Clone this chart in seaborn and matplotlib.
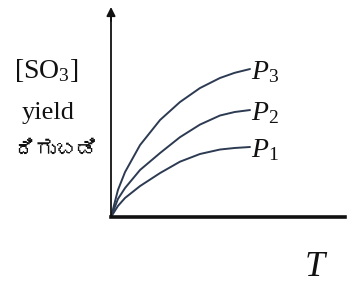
import numpy as np
import pandas as pd
import matplotlib
matplotlib.use("Agg")
import matplotlib.pyplot as plt
import seaborn as sns
from matplotlib import font_manager
from matplotlib.ft2font import FT2Font

# ---- data (T and yield in arbitrary units)
T_values = [0.0, 0.5, 1.01, 2.09, 3.53, 4.96, 6.40, 7.84, 8.9, 10.0]
P3_yield = [0.0, 1.93, 3.21, 5.14, 6.93, 8.21, 9.21, 9.93, 10.3, 10.57]
P2_yield = [0.0, 1.29, 2.07, 3.36, 4.57, 5.70, 6.60, 7.25, 7.50, 7.64]
P1_yield = [0.0, 0.79, 1.36, 2.21, 3.14, 3.95, 4.50, 4.82, 4.93, 5.0]
series_names = ["P1", "P2", "P3"]
series_labels = [r"$P_1$", r"$P_2$", r"$P_3$"]
ylabel_lines = [r"[SO$_3$]", "yield", "ದಿಗುಬಡಿ"]
xlabel = r"$T$"

# find a font with Kannada glyphs, if any
kn_font = None
for f in font_manager.fontManager.ttflist:
    try:
        if 0x0CA6 in FT2Font(f.fname).get_charmap():
            kn_font = f.name
            break
    except Exception:
        pass

n = len(T_values)
df = pd.DataFrame({
    "T": T_values * 3,
    "yield": P1_yield + P2_yield + P3_yield,
    "P": [series_names[0]] * n + [series_names[1]] * n + [series_names[2]] * n,
})

sns.set_style("white")
plt.rcParams["mathtext.fontset"] = "custom"
plt.rcParams["mathtext.rm"] = "Liberation Serif"
plt.rcParams["mathtext.it"] = "Liberation Serif:italic"

fig = plt.figure(figsize=(3.48, 2.93), dpi=100)
ax = fig.add_axes([0, 0, 1, 1])
line_col = "#2c3a52"
sns.lineplot(data=df, x="T", y="yield", hue="P", palette=[line_col] * 3,
             legend=False, ax=ax, linewidth=1.4, sort=False)
for ln in ax.lines:
    ln.set_solid_joinstyle("round")

# pixel mapping: origin at (111,217), 13.9 px per T unit, 14 px per yield unit
ax.set_xlim(-111 / 13.9, (348 - 111) / 13.9)
ax.set_ylim((217 - 293) / 14, 217 / 14)
ax.set_xlabel("")
ax.set_ylabel("")
ax.set_xticks([])
ax.set_yticks([])
for s in ["top", "right"]:
    ax.spines[s].set_visible(False)
ax.spines["left"].set_position(("data", 0))
ax.spines["bottom"].set_position(("data", 0))
ax.spines["left"].set_bounds(0, 14.6)
ax.spines["bottom"].set_bounds(0, 16.8)
ax.spines["left"].set_linewidth(1.3)
ax.spines["bottom"].set_linewidth(2.6)
ax.spines["left"].set_color("#111111")
ax.spines["bottom"].set_color("#111111")

# arrow heads
ax.annotate("", xy=(0, 15.2), xytext=(0, 13.8),
            arrowprops=dict(arrowstyle="-|>", color="#111111", lw=1.3, mutation_scale=13))
ax.annotate("", xy=(17.1, 0), xytext=(16.3, 0),
            arrowprops=dict(arrowstyle="->", color="#111111", lw=1.0, mutation_scale=10))

# curve labels
ys = [P1_yield[-1], P2_yield[-1], P3_yield[-1]]
for lab, yv in zip(series_labels, ys):
    ax.text(T_values[-1] + 0.05, yv - 0.15, lab, fontsize=20, va="center", ha="left",
            color="#111111")

ax.text(14.75, -3.5, xlabel, fontsize=26, ha="center", va="center", color="#111111")

serif = ["Liberation Serif", "DejaVu Serif"]
ax.text(-4.68, 10.5, ylabel_lines[0], fontsize=20, ha="center", va="center",
        family=serif, color="#111111")
ax.text(-4.53, 7.4, ylabel_lines[1], fontsize=19, ha="center", va="center",
        family=serif, color="#111111")
kfam = [kn_font, "DejaVu Sans"] if kn_font else ["DejaVu Sans"]
ax.text(-3.96, 4.8, ylabel_lines[2], fontsize=15, ha="center", va="center",
        family=kfam, color="#111111")

fig.savefig("out.png", dpi=100)
